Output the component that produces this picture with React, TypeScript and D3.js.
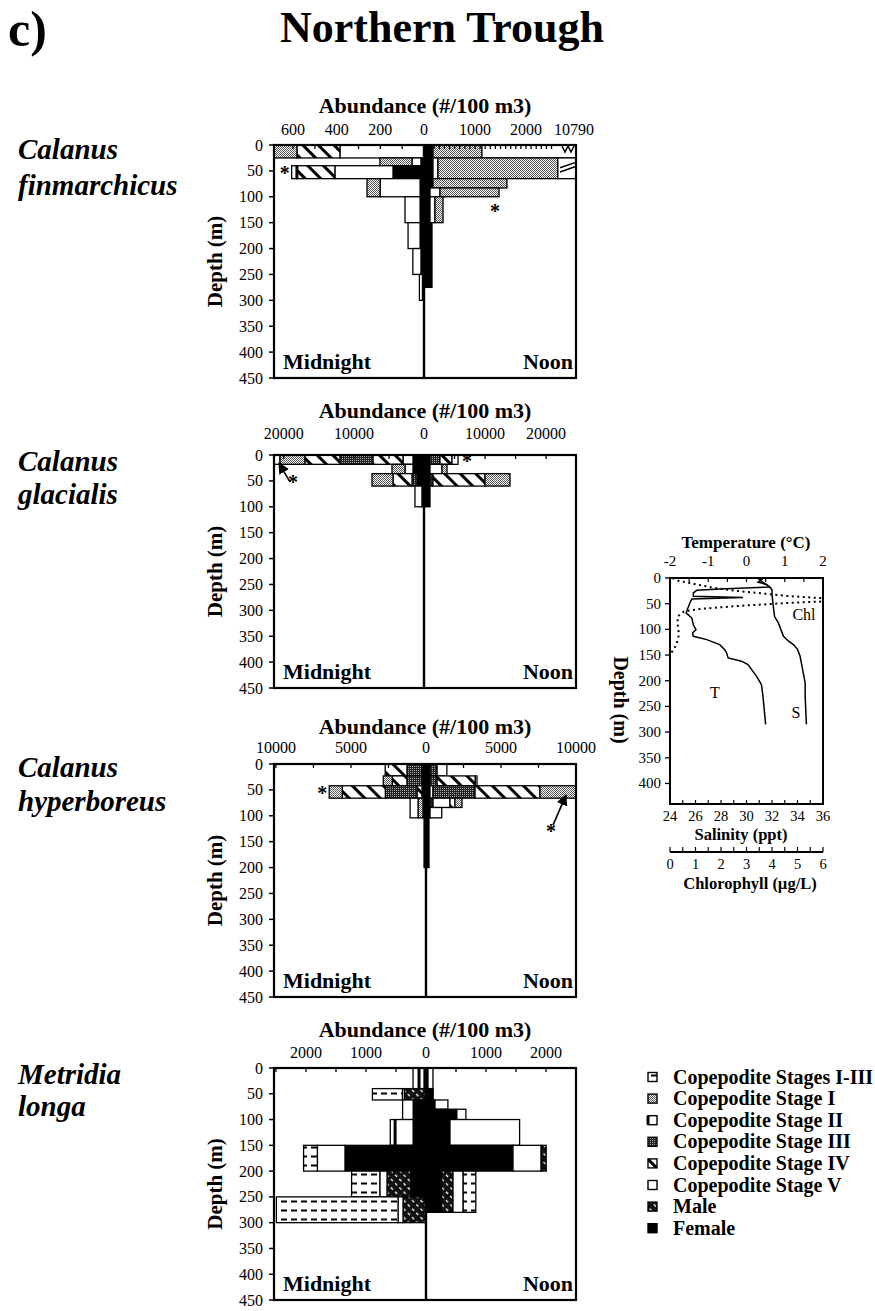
import React from 'react';
import * as d3 from 'd3';

type Seg = [string, number];
type Bin = [number, number];

// ---------- Calanus finmarchicus ----------
const finMidBins: Bin[] = [[0, 25], [25, 40], [40, 65], [65, 100], [100, 150], [150, 200], [200, 250], [250, 300]];
const finMidStacks: Seg[][] = [
  [['V', 385], ['IV', 197], ['I', 105]],
  [['F', 14], ['V', 41], ['I', 147]],
  [['F', 142], ['V', 266], ['IV', 174], ['II', 24]],
  [['F', 18], ['V', 183], ['I', 60]],
  [['F', 18], ['V', 69]],
  [['F', 18], ['V', 55]],
  [['F', 14], ['V', 37]],
  [['F', 7], ['V', 14]],
];
const finNoonBins: Bin[] = [[0, 25], [25, 65], [65, 83], [83, 100], [100, 150], [150, 275]];
const finNoonStacks: Seg[][] = [
  [['F', 176], ['I', 960], ['V', 9654]],
  [['F', 176], ['V', 98], ['I', 2350], ['V', 2000]],
  [['F', 176], ['I', 1450]],
  [['F', 118], ['V', 196], ['I', 1157]],
  [['F', 118], ['V', 98], ['I', 157]],
  [['F', 157]],
];

// ---------- Calanus glacialis ----------
const glaMidBins: Bin[] = [[0, 18], [18, 36], [36, 60], [60, 100]];
const glaMidStacks: Seg[][] = [
  [['F', 1570], ['V', 1430], ['IV', 4290], ['III', 4710], ['IV', 5000], ['I', 3570], ['V', 1140]],
  [['F', 1570], ['V', 1140], ['I', 1860]],
  [['F', 1000], ['III', 710], ['IV', 2710], ['I', 3000]],
  [['F', 290], ['V', 1000]],
];
const glaNoonBins: Bin[] = [[0, 18], [18, 36], [36, 60], [60, 100]];
const glaNoonStacks: Seg[][] = [
  [['F', 980], ['III', 1640], ['IV', 1970], ['V', 980]],
  [['F', 980], ['V', 1970], ['I', 820]],
  [['F', 980], ['III', 490], ['IV', 8520], ['I', 4100]],
  [['F', 980]],
];

// ---------- Calanus hyperboreus ----------
const hypMidBins: Bin[] = [[0, 23], [23, 42], [42, 66], [66, 104], [104, 200]];
const hypMidStacks: Seg[][] = [
  [['F', 270], ['III', 1000], ['IV', 1450]],
  [['F', 270], ['III', 1000], ['IV', 980], ['I', 600]],
  [['F', 270], ['IV', 330], ['III', 2110], ['IV', 2870], ['I', 870]],
  [['F', 200], ['I', 330], ['V', 530]],
  [['F', 130]],
];
const hypNoonBins: Bin[] = [[0, 23], [23, 42], [42, 66], [66, 84], [84, 104], [104, 200]];
const hypNoonStacks: Seg[][] = [
  [['F', 270], ['III', 470], ['V', 650]],
  [['F', 270], ['III', 470], ['IV', 2550], ['V', 110]],
  [['F', 270], ['V', 200], ['III', 2800], ['IV', 4330], ['I', 2400]],
  [['F', 270], ['III', 200], ['V', 1130], ['IV', 330], ['I', 470]],
  [['F', 270], ['V', 780]],
  [['F', 200]],
];

// ---------- Metridia longa ----------
const metMidBins: Bin[] = [[0, 40], [40, 62], [62, 100], [100, 150], [150, 200], [200, 250], [250, 300]];
const metMidStacks: Seg[][] = [
  [['F', 33], ['V', 83], ['II', 100]],
  [['M', 360], ['V', 33], ['I-III', 500]],
  [['F', 200], ['II', 190]],
  [['F', 215], ['V', 300], ['II', 80]],
  [['F', 1350], ['V', 460], ['I-III', 230]],
  [['F', 250], ['M', 400], ['V', 120], ['I-III', 470]],
  [['M', 383], ['V', 83], ['I-III', 2027]],
];
const metNoonBins: Bin[] = [[0, 40], [40, 62], [62, 80], [80, 100], [100, 150], [150, 200], [200, 280]];
const metNoonStacks: Seg[][] = [
  [['F', 33], ['V', 83]],
  [['F', 120]],
  [['F', 150], ['V', 215]],
  [['F', 500], ['II', 165]],
  [['F', 400], ['V', 1160]],
  [['F', 1450], ['V', 470], ['M', 83]],
  [['F', 260], ['M', 190], ['V', 170], ['I-III', 210]],
];

// ---------- axis labels ----------
const depthTicks = [0, 50, 100, 150, 200, 250, 300, 350, 400, 450];
const finLeftLabels = [600, 400, 200, 0];
const finRightLabels = [1000, 2000];
const glaLabels = [20000, 10000, 0];
const glaRightLabels = [10000, 20000];
const hypLabels = [10000, 5000, 0];
const hypRightLabels = [5000, 10000];
const metLabels = [2000, 1000, 0];
const metRightLabels = [1000, 2000];

// ---------- CTD profile ----------
const tempDepth = [0, 6.5, 13, 17.5, 21.4, 24, 29, 35.7, 38, 41, 48.6, 61.6, 68, 78, 91, 100.5, 107, 113.5, 120, 129.7, 139.4, 146, 155.6, 162, 168.6, 178, 191, 207.5, 230, 269, 285];
const tempVal = [0.30, 0.39, 0.52, 0.61, -0.70, -1.30, -1.39, -1.39, -0.09, -1.43, -1.48, -1.55, -1.58, -1.43, -1.39, -1.32, -1.41, -1.39, -1.04, -0.70, -0.57, -0.52, -0.48, -0.13, 0.04, 0.13, 0.26, 0.39, 0.43, 0.48, 0.50];
const salDepth = [0, 3, 8, 13, 17.5, 23, 32, 55, 75, 87.5, 100.5, 113.5, 123, 130, 139, 152, 178, 204, 230, 285];
const salVal = [30.8, 31.2, 30.9, 31.6, 31.8, 32.0, 32.0, 32.1, 32.2, 32.5, 32.7, 32.9, 33.3, 33.7, 34.0, 34.2, 34.4, 34.6, 34.6, 34.7];
const chlDepth = [0, 5, 10, 18, 25, 30, 35, 40, 45, 49, 54, 60, 65, 75, 90, 110, 130, 146];
const chlVal = [0.1, 0.3, 0.8, 1.6, 2.6, 3.6, 4.6, 6.2, 6.3, 4.5, 2.8, 1.2, 0.55, 0.3, 0.3, 0.35, 0.25, 0.05];
const tempTicks = [-2, -1, 0, 1, 2];
const salTicks = [24, 26, 28, 30, 32, 34, 36];
const chlTicks = [0, 1, 2, 3, 4, 5, 6];
const ctdDepthTicks = [0, 50, 100, 150, 200, 250, 300, 350, 400];

// ---------- legend ----------
const legendKeys = ['I-III', 'I', 'II', 'III', 'IV', 'V', 'M', 'F'];
const legendLabels = ['Copepodite Stages I-III', 'Copepodite Stage I', 'Copepodite Stage II', 'Copepodite Stage III', 'Copepodite Stage IV', 'Copepodite Stage V', 'Male', 'Female'];

const fillOf: Record<string, string> = {
  F: '#000', M: 'url(#male)', V: '#fff', IV: 'url(#hatch)', III: 'url(#stipD)', II: '#fff', I: 'url(#stipL)', 'I-III': 'url(#dash)',
};

const FL = 274, FR = 576;
const serif = "'Liberation Serif', 'Times New Roman', serif";

function Stacks({ bins, stacks, scale, y }: { bins: Bin[]; stacks: Seg[][]; scale: d3.ScaleLinear<number, number>; y: d3.ScaleLinear<number, number> }) {
  const els: React.ReactNode[] = [];
  bins.forEach(([d0, d1], i) => {
    let cum = 0;
    const y0 = y(d0), y1 = y(d1);
    stacks[i].forEach(([st, v], j) => {
      const a = scale(cum), b = scale(cum + v);
      cum += v;
      const x = Math.min(a, b), w = Math.abs(b - a);
      if (w <= 0.01) return;
      els.push(<rect key={`${i}-${j}`} x={x} y={y0} width={w} height={y1 - y0} fill={fillOf[st]} stroke="#000" strokeWidth={1.3} />);
      if (st === 'II') els.push(<line key={`${i}-${j}e`} x1={a} x2={a} y1={y0} y2={y1} stroke="#000" strokeWidth={3} />);
    });
  });
  return <g>{els}</g>;
}

interface PanelCfg {
  n1: string; n2: string; top: number; bottom: number; center: number; titleY: number; tickY: number; nameY: [number, number];
  leftMax: number; rightMax: number; step: number; leftTickMax: number; rightTickMax: number;
  leftLabels: number[]; rightLabels: number[];
  midBins: Bin[]; midStacks: Seg[][]; noonBins: Bin[]; noonStacks: Seg[][];
}

const panels: PanelCfg[] = [
  { n1: 'Calanus', n2: 'finmarchicus', top: 145, bottom: 378, center: 424, titleY: 113, tickY: 135, nameY: [159, 195], leftMax: 687, rightMax: 2980, step: 100, leftTickMax: 600, rightTickMax: 2500, leftLabels: finLeftLabels, rightLabels: finRightLabels, midBins: finMidBins, midStacks: finMidStacks, noonBins: finNoonBins, noonStacks: finNoonStacks },
  { n1: 'Calanus', n2: 'glacialis', top: 455, bottom: 688, center: 424, titleY: 418, tickY: 439, nameY: [471, 504], leftMax: 21400, rightMax: 24900, step: 5000, leftTickMax: 20000, rightTickMax: 20000, leftLabels: glaLabels, rightLabels: glaRightLabels, midBins: glaMidBins, midStacks: glaMidStacks, noonBins: glaNoonBins, noonStacks: glaNoonStacks },
  { n1: 'Calanus', n2: 'hyperboreus', top: 764, bottom: 997, center: 426, titleY: 734, tickY: 753, nameY: [777, 811], leftMax: 10130, rightMax: 10000, step: 2500, leftTickMax: 10000, rightTickMax: 10000, leftLabels: hypLabels, rightLabels: hypRightLabels, midBins: hypMidBins, midStacks: hypMidStacks, noonBins: hypNoonBins, noonStacks: hypNoonStacks },
  { n1: 'Metridia', n2: 'longa', top: 1068, bottom: 1300, center: 426, titleY: 1037, tickY: 1058, nameY: [1084, 1116], leftMax: 2533, rightMax: 2500, step: 500, leftTickMax: 2500, rightTickMax: 2500, leftLabels: metLabels, rightLabels: metRightLabels, midBins: metMidBins, midStacks: metMidStacks, noonBins: metNoonBins, noonStacks: metNoonStacks },
];

function Panel({ p, idx }: { p: PanelCfg; idx: number }) {
  const y = d3.scaleLinear().domain([0, 450]).range([p.top, p.bottom]);
  const xl = d3.scaleLinear().domain([0, p.leftMax]).range([p.center, FL]).clamp(true);
  const xr = d3.scaleLinear().domain([0, p.rightMax]).range([p.center, FR]).clamp(true);
  const lt = d3.range(0, p.leftTickMax + 1, p.step);
  const rt = d3.range(p.step, p.rightTickMax + 1, p.step);
  return (
    <g>
      <text x={18} y={p.nameY[0]} fontSize={29} fontWeight="bold" fontStyle="italic">{p.n1}</text>
      <text x={18} y={p.nameY[1]} fontSize={29} fontWeight="bold" fontStyle="italic">{p.n2}</text>
      <text x={425} y={p.titleY} fontSize={22} fontWeight="bold" textAnchor="middle">Abundance (#/100 m3)</text>
      {p.leftLabels.map((v) => (
        <text key={'ll' + v} x={xl(v)} y={p.tickY} fontSize={16} textAnchor="middle">{v}</text>
      ))}
      {p.rightLabels.map((v) => (
        <text key={'rl' + v} x={xr(v)} y={p.tickY} fontSize={16} textAnchor="middle">{v}</text>
      ))}
      {idx === 0 && <text x={574} y={p.tickY} fontSize={16} textAnchor="middle">10790</text>}
      <Stacks bins={p.midBins} stacks={p.midStacks} scale={xl} y={y} />
      <Stacks bins={p.noonBins} stacks={p.noonStacks} scale={xr} y={y} />
      <line x1={p.center} x2={p.center} y1={p.top} y2={p.bottom} stroke="#000" strokeWidth={2.4} />
      <rect x={FL} y={p.top} width={FR - FL} height={p.bottom - p.top} fill="none" stroke="#000" strokeWidth={2.2} />
      {lt.map((v) => <line key={'tl' + v} x1={xl(v)} x2={xl(v)} y1={p.top} y2={p.top + 4} stroke="#000" strokeWidth={1.3} />)}
      {rt.map((v) => <line key={'tr' + v} x1={xr(v)} x2={xr(v)} y1={p.top} y2={p.top + 4} stroke="#000" strokeWidth={1.3} />)}
      {depthTicks.map((d) => (
        <g key={'d' + d}>
          <line x1={FL - 5} x2={FL} y1={y(d)} y2={y(d)} stroke="#000" strokeWidth={1.5} />
          <text x={263} y={y(d) + 5.5} fontSize={16} textAnchor="end">{d}</text>
        </g>
      ))}
      <text transform={`translate(222,${(p.top + p.bottom) / 2}) rotate(-90)`} fontSize={21} fontWeight="bold" textAnchor="middle">Depth (m)</text>
      <text x={283} y={p.bottom - 9} fontSize={22} fontWeight="bold">Midnight</text>
      <text x={573} y={p.bottom - 9} fontSize={22} fontWeight="bold" textAnchor="end">Noon</text>
      {idx === 0 && (
        <g>
          <text x={xl(finMidStacks[2].reduce((s, d) => s + d[1], 0)) - 12} y={y(52) + 8} fontSize={20} fontWeight="bold">*</text>
          <text x={490} y={y(125) + 8} fontSize={20} fontWeight="bold">*</text>
          <polyline points={`${FR - 14},${p.top + 1} ${FR - 11},${p.top + 7} ${FR - 8},${p.top + 1} ${FR - 5},${p.top + 7} ${FR - 2},${p.top + 1}`} fill="#fff" stroke="#000" strokeWidth={1.5} />
          <line x1={FR - 16} x2={FR - 1} y1={y(44)} y2={y(34)} stroke="#000" strokeWidth={1.5} />
          <line x1={FR - 16} x2={FR - 1} y1={y(52)} y2={y(42)} stroke="#000" strokeWidth={1.5} />
        </g>
      )}
      {idx === 1 && (
        <g>
          <text x={xr(glaNoonStacks[0].reduce((s, d) => s + d[1], 0)) + 4} y={y(9) + 8} fontSize={20} fontWeight="bold">*</text>
          <line x1={290} y1={y(52)} x2={279} y2={y(16)} stroke="#000" strokeWidth={1.6} markerEnd="url(#arrow)" />
          <text x={288} y={y(66)} fontSize={20} fontWeight="bold">*</text>
        </g>
      )}
      {idx === 2 && (
        <g>
          <text x={xl(hypMidStacks[2].reduce((s, d) => s + d[1], 0)) - 12} y={y(54) + 8} fontSize={20} fontWeight="bold">*</text>
          <line x1={553} y1={y(118)} x2={566} y2={y(60)} stroke="#000" strokeWidth={1.6} markerEnd="url(#arrow)" />
          <text x={546} y={y(142)} fontSize={20} fontWeight="bold">*</text>
        </g>
      )}
    </g>
  );
}

function CTD() {
  const y = d3.scaleLinear().domain([0, 440]).range([578, 804]);
  const tX = d3.scaleLinear().domain([-2, 2]).range([670, 823]);
  const sX = d3.scaleLinear().domain([24, 36]).range([670, 823]);
  const cX = d3.scaleLinear().domain([0, 6]).range([670, 823]);
  const line = d3.line<[number, number]>().x((d) => d[0]).y((d) => d[1]);
  const tPts: [number, number][] = tempDepth.map((d, i) => [tX(tempVal[i]), y(d)]);
  const sPts: [number, number][] = salDepth.map((d, i) => [sX(salVal[i]), y(d)]);
  const cPts: [number, number][] = chlDepth.map((d, i) => [cX(chlVal[i]), y(d)]);
  return (
    <g>
      <clipPath id="ctdclip"><rect x={670} y={578} width={153} height={226} /></clipPath>
      <text x={746} y={548} fontSize={17} fontWeight="bold" textAnchor="middle">Temperature (°C)</text>
      {tempTicks.map((t) => <text key={'t' + t} x={tX(t)} y={566} fontSize={15} textAnchor="middle">{t}</text>)}
      {d3.range(-2, 2.01, 0.5).map((t) => <line key={'tt' + t} x1={tX(t)} x2={tX(t)} y1={578} y2={582} stroke="#000" strokeWidth={1.2} />)}
      {ctdDepthTicks.map((d) => (
        <g key={'cd' + d}>
          <line x1={665} x2={670} y1={y(d)} y2={y(d)} stroke="#000" strokeWidth={1.3} />
          <text x={661} y={y(d) + 5} fontSize={15} textAnchor="end">{d}</text>
        </g>
      ))}
      <g clipPath="url(#ctdclip)">
        <path d={line(cPts) || ''} fill="none" stroke="#000" strokeWidth={2} strokeDasharray="2 3.5" />
        <path d={line(tPts) || ''} fill="none" stroke="#000" strokeWidth={1.5} />
        <path d={line(sPts) || ''} fill="none" stroke="#000" strokeWidth={1.5} />
      </g>
      <rect x={670} y={578} width={153} height={226} fill="none" stroke="#000" strokeWidth={2} />
      {d3.range(24, 36.01, 1).map((s) => <line key={'st' + s} x1={sX(s)} x2={sX(s)} y1={804} y2={800} stroke="#000" strokeWidth={1.2} />)}
      {salTicks.map((s) => <text key={'s' + s} x={sX(s)} y={821} fontSize={14.5} textAnchor="middle">{s}</text>)}
      <text x={741} y={840} fontSize={16.5} fontWeight="bold" textAnchor="middle">Salinity (ppt)</text>
      <line x1={670} x2={823} y1={852} y2={852} stroke="#000" strokeWidth={2} />
      {d3.range(0, 6.01, 0.5).map((c) => <line key={'ct' + c} x1={cX(c)} x2={cX(c)} y1={852} y2={847} stroke="#000" strokeWidth={1.2} />)}
      {chlTicks.map((c) => <text key={'c' + c} x={cX(c)} y={869} fontSize={14.5} textAnchor="middle">{c}</text>)}
      <text x={750} y={889} fontSize={16.5} fontWeight="bold" textAnchor="middle">Chlorophyll (µg/L)</text>
      <text transform="translate(614,700) rotate(90)" fontSize={20} fontWeight="bold" textAnchor="middle">Depth (m)</text>
      <text x={804} y={620} fontSize={16} textAnchor="middle">Chl</text>
      <text x={715} y={698} fontSize={16} textAnchor="middle">T</text>
      <text x={796} y={718} fontSize={16} textAnchor="middle">S</text>
    </g>
  );
}

function Legend() {
  return (
    <g>
      {legendKeys.map((k, i) => {
        const cy = 1077 + i * 21.6;
        return (
          <g key={k}>
            <rect x={648} y={cy - 4.5} width={9} height={9} fill={fillOf[k]} stroke="#000" strokeWidth={1.4} />
            {k === 'II' && <line x1={648} x2={648} y1={cy - 4.5} y2={cy + 4.5} stroke="#000" strokeWidth={3} />}
            <text x={673} y={cy + 6.5} fontSize={20} fontWeight="bold">{legendLabels[i]}</text>
          </g>
        );
      })}
    </g>
  );
}

export default function App() {
  return (
    <svg width={875} height={1311} style={{ position: 'absolute', left: 0, top: 0, background: '#fff' }} fontFamily={serif}>
      <defs>
        <pattern id="stipL" width="2" height="2" patternUnits="userSpaceOnUse">
          <rect width="2" height="2" fill="#fff" />
          <rect x="0" y="0" width="1" height="1" fill="#555" />
          <rect x="1" y="1" width="1" height="1" fill="#555" />
        </pattern>
        <pattern id="stipD" width="2" height="2" patternUnits="userSpaceOnUse">
          <rect width="2" height="2" fill="#222" />
          <rect x="0" y="0" width="1" height="1" fill="#aaa" />
        </pattern>
        <pattern id="hatch" width="11" height="11" patternUnits="userSpaceOnUse" patternTransform="rotate(-45)">
          <rect width="11" height="11" fill="#fff" />
          <rect x="0" y="0" width="3" height="11" fill="#000" />
        </pattern>
        <pattern id="male" width="6" height="6" patternUnits="userSpaceOnUse" patternTransform="rotate(-45)">
          <rect width="6" height="6" fill="#111" />
          <rect x="0" y="0" width="1.3" height="3" fill="#fff" />
        </pattern>
        <pattern id="dash" width="10" height="9" patternUnits="userSpaceOnUse">
          <rect width="10" height="9" fill="#fff" />
          <rect x="1" y="3.5" width="6" height="2" fill="#000" />
        </pattern>
        <marker id="arrow" viewBox="0 0 10 10" refX="9" refY="5" markerWidth="7" markerHeight="7" orient="auto">
          <path d="M0,0 L10,5 L0,10 z" fill="#000" />
        </marker>
      </defs>
      <rect width={875} height={1311} fill="#fff" />
      <text x={8} y={46} fontSize={50} fontWeight="bold">c)</text>
      <text x={442} y={42} fontSize={44} fontWeight="bold" textAnchor="middle">Northern Trough</text>
      {panels.map((p, i) => <Panel key={i} p={p} idx={i} />)}
      <CTD />
      <Legend />
    </svg>
  );
}
